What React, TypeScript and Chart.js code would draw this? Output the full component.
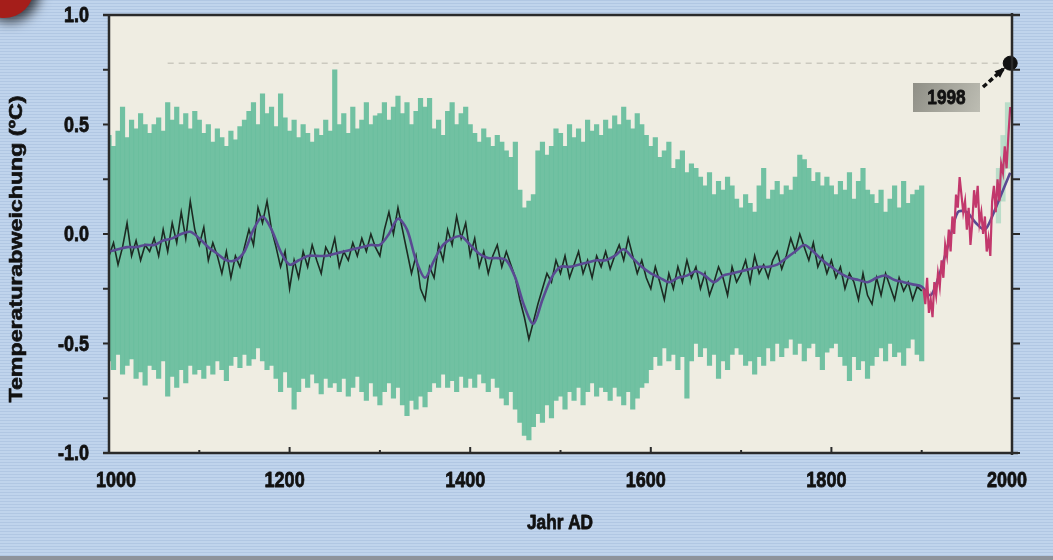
import React, { useEffect, useRef } from 'react';
import { Chart, registerables } from 'chart.js';

Chart.register(...registerables);

// ---------- data ----------
const X_TICKS = [1000, 1200, 1400, 1600, 1800, 2000];
const Y_TICKS = [-1.0, -0.5, 0.0, 0.5, 1.0];
const Y_TITLE = 'Temperaturabweichung (ºC)';
const X_TITLE = 'Jahr AD';
const RECORD_YEAR = 1998;
const RECORD_VALUE = 0.78;
const RECORD_LABEL = '1998';
const REF_LINE_YEARS = [1065, 1990];

// uncertainty band, 5-year steps from 1000 to 1900
const BAND_START = 1000;
const BAND_STEP = 5;
const BAND_HI = [
  0.45, 0.40, 0.47, 0.58, 0.44, 0.52, 0.48, 0.55, 0.50, 0.46,
  0.50, 0.53, 0.47, 0.60, 0.52, 0.58, 0.50, 0.55, 0.48, 0.56,
  0.52, 0.46, 0.50, 0.42, 0.48, 0.44, 0.40, 0.47, 0.43, 0.49,
  0.52, 0.56, 0.60, 0.50, 0.64, 0.55, 0.58, 0.49, 0.64, 0.53,
  0.47, 0.52, 0.44, 0.50, 0.46, 0.42, 0.48, 0.45, 0.52, 0.47,
  0.75, 0.50, 0.55, 0.46, 0.58, 0.48, 0.52, 0.60, 0.50, 0.54,
  0.55, 0.60, 0.52, 0.58, 0.63, 0.55, 0.60, 0.50, 0.56, 0.62,
  0.58, 0.62, 0.48, 0.52, 0.45, 0.56, 0.60, 0.50, 0.55, 0.58,
  0.50, 0.46, 0.42, 0.48, 0.44, 0.40, 0.45, 0.42, 0.38, 0.35,
  0.42, 0.20, 0.12, 0.15, 0.18, 0.38, 0.42, 0.36, 0.40, 0.48,
  0.46, 0.40, 0.50, 0.44, 0.48, 0.42, 0.52, 0.47, 0.50, 0.45,
  0.52, 0.48, 0.54, 0.50, 0.58, 0.52, 0.48, 0.55, 0.50, 0.45,
  0.40, 0.44, 0.35, 0.38, 0.42, 0.30, 0.34, 0.38, 0.28, 0.32,
  0.30, 0.26, 0.22, 0.28, 0.18, 0.24, 0.20, 0.26, 0.22, 0.16,
  0.12, 0.18, 0.14, 0.10, 0.22, 0.30, 0.16, 0.20, 0.24, 0.18,
  0.22, 0.20, 0.26, 0.36, 0.34, 0.30, 0.24, 0.28, 0.22, 0.26,
  0.22, 0.18, 0.24, 0.20, 0.28, 0.16, 0.24, 0.30, 0.20, 0.18,
  0.14, 0.20, 0.10, 0.16, 0.22, 0.12, 0.24, 0.14, 0.18, 0.20,
  0.22,
];
const BAND_LO = [
  -0.58, -0.62, -0.55, -0.64, -0.60, -0.57, -0.66, -0.63, -0.69, -0.60,
  -0.62, -0.66, -0.58, -0.74, -0.65, -0.70, -0.62, -0.68, -0.60, -0.64,
  -0.62, -0.66, -0.60, -0.64, -0.58, -0.62, -0.67, -0.60, -0.56, -0.61,
  -0.55, -0.60, -0.57, -0.52, -0.58, -0.62, -0.60, -0.66, -0.72, -0.63,
  -0.70, -0.80, -0.72, -0.66, -0.70, -0.64, -0.68, -0.73, -0.66, -0.70,
  -0.68, -0.72, -0.66, -0.74, -0.70, -0.65, -0.72, -0.76, -0.68, -0.74,
  -0.78, -0.72, -0.68, -0.75, -0.70, -0.78, -0.83, -0.76, -0.80, -0.74,
  -0.79, -0.72, -0.68, -0.70, -0.64, -0.70, -0.67, -0.72, -0.65, -0.70,
  -0.66, -0.70, -0.64, -0.68, -0.72, -0.66, -0.70, -0.75, -0.78, -0.72,
  -0.80, -0.86, -0.92, -0.94, -0.88, -0.82, -0.86, -0.78, -0.84, -0.76,
  -0.74, -0.80, -0.72, -0.76, -0.70, -0.78, -0.72, -0.68, -0.74, -0.70,
  -0.72, -0.76, -0.70, -0.74, -0.78, -0.72, -0.80, -0.75, -0.70, -0.68,
  -0.62, -0.56, -0.60, -0.52, -0.58, -0.55, -0.62, -0.56, -0.75, -0.58,
  -0.50, -0.56, -0.52, -0.60, -0.55, -0.66, -0.58, -0.62, -0.55, -0.52,
  -0.55, -0.60, -0.58, -0.64, -0.56, -0.60, -0.52, -0.58, -0.50, -0.56,
  -0.52, -0.48, -0.55, -0.50, -0.58, -0.52, -0.50, -0.56, -0.62, -0.54,
  -0.52, -0.50, -0.56, -0.60, -0.67, -0.56, -0.62, -0.58, -0.66, -0.60,
  -0.56, -0.52, -0.58, -0.50, -0.56, -0.54, -0.60, -0.52, -0.48, -0.55,
  -0.58,
];
// reconstructed annual values (5-year samples, 1000..1900)
const ANNUAL = [
  -0.10, -0.04, -0.14, -0.06, 0.05, -0.10, -0.03, -0.12, -0.05, -0.08,
  -0.02, -0.10, 0.02, -0.08, 0.05, -0.04, 0.10, -0.02, 0.15, 0.02,
  -0.05, 0.03, -0.12, -0.04, -0.10, -0.18, -0.08, -0.20, -0.10, -0.15,
  -0.06, 0.02, -0.05, 0.12, 0.05, 0.15, 0.02, -0.06, -0.15, -0.08,
  -0.25, -0.12, -0.20, -0.08, -0.15, -0.05, -0.12, -0.18, -0.06, -0.10,
  -0.02, -0.15, -0.08, -0.12, -0.04, -0.10, -0.02, -0.08, 0.00, -0.06,
  -0.10, 0.02, 0.10, 0.00, 0.12, 0.02, -0.08, -0.18, -0.10, -0.25,
  -0.30, -0.15, -0.20, -0.05, -0.12, 0.02, -0.05, 0.08, -0.02, 0.05,
  -0.10, -0.02, -0.15, -0.08, -0.18, -0.10, -0.05, -0.15, -0.08, -0.14,
  -0.20, -0.30, -0.38, -0.48, -0.40, -0.32, -0.25, -0.18, -0.22, -0.12,
  -0.18, -0.10, -0.20, -0.14, -0.08, -0.18, -0.12, -0.20, -0.10, -0.15,
  -0.08, -0.16, -0.10, -0.05, -0.12, -0.02, -0.10, -0.18, -0.12, -0.20,
  -0.25, -0.15, -0.22, -0.30, -0.18, -0.25, -0.15, -0.22, -0.12, -0.20,
  -0.15, -0.25, -0.18, -0.28, -0.22, -0.15, -0.20, -0.28, -0.15, -0.22,
  -0.18, -0.12, -0.22, -0.10, -0.18, -0.14, -0.20, -0.12, -0.08, -0.16,
  -0.10, -0.02, -0.08, 0.00, -0.06, -0.12, -0.04, -0.15, -0.10, -0.18,
  -0.12, -0.20, -0.15, -0.25, -0.18, -0.22, -0.30, -0.18, -0.28, -0.32,
  -0.20, -0.28, -0.18, -0.24, -0.30, -0.20, -0.26, -0.22, -0.30, -0.24,
  -0.26,
];
// smoothed curve (decadal)
const SMOOTH_YEARS = [
  1000, 1010, 1020, 1030, 1040, 1050, 1060, 1070, 1080, 1090,
  1100, 1110, 1120, 1130, 1140, 1150, 1160, 1170, 1180, 1190,
  1200, 1210, 1220, 1230, 1240, 1250, 1260, 1270, 1280, 1290,
  1300, 1310, 1320, 1330, 1340, 1350, 1360, 1370, 1380, 1390,
  1400, 1410, 1420, 1430, 1440, 1450, 1460, 1470, 1480, 1490,
  1500, 1510, 1520, 1530, 1540, 1550, 1560, 1570, 1580, 1590,
  1600, 1610, 1620, 1630, 1640, 1650, 1660, 1670, 1680, 1690,
  1700, 1710, 1720, 1730, 1740, 1750, 1760, 1770, 1780, 1790,
  1800, 1810, 1820, 1830, 1840, 1850, 1860, 1870, 1880, 1890,
  1900, 1910, 1920, 1930, 1940, 1950, 1960, 1970, 1980, 1990, 1998,
];
const SMOOTH_VALUES = [
  -0.08, -0.07, -0.06, -0.06, -0.05, -0.05, -0.03, -0.02, 0.00, 0.01,
  -0.02, -0.06, -0.09, -0.12, -0.12, -0.08, 0.02, 0.08, 0.02, -0.08,
  -0.14, -0.12, -0.10, -0.10, -0.10, -0.09, -0.08, -0.07, -0.06, -0.05,
  -0.05, 0.00, 0.07, 0.02, -0.12, -0.20, -0.12, -0.05, -0.02, -0.01,
  -0.05, -0.09, -0.11, -0.11, -0.12, -0.20, -0.33, -0.41, -0.30, -0.20,
  -0.15, -0.15, -0.14, -0.13, -0.12, -0.12, -0.10, -0.07, -0.11, -0.15,
  -0.18, -0.20, -0.22, -0.20, -0.19, -0.17, -0.19, -0.22, -0.19, -0.18,
  -0.17, -0.16, -0.15, -0.15, -0.14, -0.11, -0.08, -0.05, -0.08, -0.12,
  -0.15, -0.18, -0.20, -0.21, -0.22, -0.20, -0.19, -0.21, -0.22, -0.23,
  -0.24, -0.28, -0.18, -0.04, 0.10, 0.10, 0.05, 0.02, 0.10, 0.20, 0.28,
];
// instrumental record
const INSTR_YEARS = [
  1902, 1904, 1906, 1908, 1910, 1912, 1914, 1916, 1918, 1920,
  1922, 1924, 1926, 1928, 1930, 1932, 1934, 1936, 1938, 1940,
  1942, 1944, 1946, 1948, 1950, 1952, 1954, 1956, 1958, 1960,
  1962, 1964, 1966, 1968, 1970, 1972, 1974, 1976, 1978, 1980,
  1982, 1984, 1986, 1988, 1990, 1992, 1994, 1996, 1998,
];
const INSTR_VALUES = [
  -0.25, -0.32, -0.20, -0.36, -0.30, -0.38, -0.22, -0.28, -0.18, -0.24,
  -0.12, -0.20, -0.05, -0.10, 0.02, -0.08, 0.08, 0.00, 0.18, 0.12,
  0.26, 0.18, 0.10, 0.15, 0.02, 0.12, -0.05, 0.05, 0.20, 0.12,
  0.22, 0.05, 0.10, 0.00, 0.08, -0.08, -0.02, -0.10, 0.15, 0.22,
  0.10, 0.25, 0.15, 0.32, 0.28, 0.40, 0.30, 0.45, 0.58,
];
const INSTR_BAND_YEARS = [1985, 1990, 1995];
const INSTR_BAND_HI = [0.30, 0.45, 0.60];
const INSTR_BAND_LO = [0.05, 0.15, 0.30];

// ---------- chart ----------
const W = 1053;
const H = 560;
const FONT = "'Liberation Sans', Arial, sans-serif";
const SQUEEZE = 0.82;

function squeezedText(ctx: any, text: string, x: number, y: number, align: 'left' | 'center' | 'right', size: number) {
  ctx.save();
  ctx.font = `bold ${size}px ${FONT}`;
  ctx.textBaseline = 'middle';
  ctx.textAlign = align;
  ctx.translate(x, y);
  ctx.scale(SQUEEZE, 1);
  ctx.lineWidth = 0.8;
  ctx.strokeStyle = ctx.fillStyle;
  ctx.lineJoin = 'round';
  ctx.strokeText(text, 0, 0);
  ctx.fillText(text, 0, 0);
  ctx.restore();
}

const decor = {
  id: 'decor',
  beforeDraw(chart: any) {
    const { ctx, chartArea: a } = chart;
    ctx.save();
    ctx.fillStyle = '#c0d4ec';
    ctx.fillRect(0, 0, W, H);
    for (let y = 0; y < H; y += 3) {
      ctx.fillStyle = 'rgba(140,166,204,0.28)';
      ctx.fillRect(0, y, W, 1);
    }
    ctx.fillStyle = '#8e939b';
    ctx.fillRect(0, 556, W, 4);
    ctx.shadowColor = 'rgba(0,0,0,0.7)';
    ctx.shadowBlur = 12;
    ctx.shadowOffsetX = 6;
    ctx.shadowOffsetY = 4;
    ctx.fillStyle = '#a51e1a';
    ctx.beginPath();
    ctx.arc(4, -12, 30, 0, Math.PI * 2);
    ctx.fill();
    ctx.shadowColor = 'transparent';
    ctx.fillStyle = '#efede2';
    ctx.fillRect(a.left, a.top, a.right - a.left, a.bottom - a.top);
    ctx.restore();
  },
  afterDatasetsDraw(chart: any) {
    const { ctx, chartArea: a, scales } = chart;
    const xs = scales.x;
    const ys = scales.y;
    ctx.save();
    ctx.strokeStyle = '#2a2a2a';
    ctx.lineWidth = 2.5;
    ctx.beginPath();
    ctx.moveTo(a.left - 6, a.top);
    ctx.lineTo(a.right + 8, a.top);
    ctx.moveTo(a.left, a.top);
    ctx.lineTo(a.left, a.bottom + 1);
    ctx.moveTo(a.left - 6, a.bottom);
    ctx.lineTo(a.right + 6, a.bottom);
    ctx.moveTo(a.right, a.top - 2);
    ctx.lineTo(a.right, a.bottom + 2);
    ctx.stroke();
    ctx.lineWidth = 2;
    ctx.beginPath();
    for (let v = -1; v <= 1.0001; v += 0.25) {
      const y = ys.getPixelForValue(v);
      ctx.moveTo(a.left - 6, y);
      ctx.lineTo(a.left, y);
      ctx.moveTo(a.right, y);
      ctx.lineTo(a.right + 8, y);
    }
    for (let yr = 1100; yr < 2000; yr += 100) {
      const x = xs.getPixelForValue(yr);
      ctx.moveTo(x, a.bottom);
      ctx.lineTo(x, a.bottom - (yr % 200 === 0 ? 6 : 3));
    }
    ctx.stroke();

    // record annotation: dashed arrow + label box
    const px = xs.getPixelForValue(RECORD_YEAR);
    const py = ys.getPixelForValue(RECORD_VALUE);
    const sx = 983, sy = 87;
    const ex = px - 7, ey = py + 6;
    ctx.strokeStyle = '#111';
    ctx.fillStyle = '#111';
    ctx.lineWidth = 3.5;
    ctx.setLineDash([5, 3]);
    ctx.beginPath();
    ctx.moveTo(sx, sy);
    ctx.lineTo(ex, ey);
    ctx.stroke();
    ctx.setLineDash([]);
    const ang = Math.atan2(ey - sy, ex - sx);
    ctx.beginPath();
    ctx.moveTo(ex + Math.cos(ang) * 3, ey + Math.sin(ang) * 3);
    ctx.lineTo(ex - Math.cos(ang - 0.5) * 9, ey - Math.sin(ang - 0.5) * 9);
    ctx.lineTo(ex - Math.cos(ang + 0.5) * 9, ey - Math.sin(ang + 0.5) * 9);
    ctx.closePath();
    ctx.fill();
    const bx = 913, by = 83, bw = 67, bh = 29;
    const g = ctx.createLinearGradient(bx, by, bx + bw, by + bh);
    g.addColorStop(0, '#8f8f86');
    g.addColorStop(1, '#bdbdb3');
    ctx.fillStyle = g;
    ctx.fillRect(bx, by, bw, bh);
    ctx.fillStyle = '#111';
    squeezedText(ctx, RECORD_LABEL, bx + bw / 2, by + bh / 2 + 1, 'center', 21);
    ctx.restore();
  },
  afterDraw(chart: any) {
    const { ctx, scales } = chart;
    ctx.save();
    ctx.fillStyle = '#111';
    X_TICKS.forEach((v, i) => {
      const dx = i === 0 ? 7 : -5;
      squeezedText(ctx, String(v), scales.x.getPixelForValue(v) + dx, 481, 'center', 22);
    });
    Y_TICKS.forEach((v) => {
      squeezedText(ctx, v.toFixed(1), 89, scales.y.getPixelForValue(v) + 1, 'right', 22);
    });
    squeezedText(ctx, X_TITLE, 560, 523, 'center', 21);
    ctx.translate(17, 249);
    ctx.rotate(-Math.PI / 2);
    ctx.font = `bold 19px ${FONT}`;
    ctx.textAlign = 'center';
    ctx.textBaseline = 'middle';
    const w = ctx.measureText(Y_TITLE).width;
    ctx.scale(307 / w, 1);
    ctx.lineWidth = 0.6;
    ctx.strokeStyle = '#111';
    ctx.strokeText(Y_TITLE, 0, 0);
    ctx.fillText(Y_TITLE, 0, 0);
    ctx.restore();
  },
};

export default function App() {
  const ref = useRef<HTMLCanvasElement | null>(null);
  useEffect(() => {
    if (!ref.current) return;
    const band = BAND_HI.map((hi, i) => ({ x: BAND_START + i * BAND_STEP, y: [BAND_LO[i], hi] }));
    const annual = ANNUAL.map((v, i) => ({ x: BAND_START + i * BAND_STEP, y: v }));
    const smooth = SMOOTH_YEARS.map((x, i) => ({ x, y: SMOOTH_VALUES[i] }));
    const instr = INSTR_YEARS.map((x, i) => ({ x, y: INSTR_VALUES[i] }));
    const instrBand = INSTR_BAND_YEARS.map((x, i) => ({ x, y: [INSTR_BAND_LO[i], INSTR_BAND_HI[i]] }));
    const chart = new Chart(ref.current, {
      type: 'bar',
      data: {
        datasets: [
          {
            type: 'bar',
            data: band as any,
            backgroundColor: 'rgba(102,189,156,0.92)',
            borderWidth: 0,
            barPercentage: 1,
            categoryPercentage: 1,
            grouped: false,
            order: 10,
          } as any,
          {
            type: 'bar',
            data: instrBand as any,
            backgroundColor: 'rgba(150,210,185,0.6)',
            borderWidth: 0,
            barPercentage: 1,
            categoryPercentage: 1,
            grouped: false,
            order: 9,
          } as any,
          {
            type: 'line',
            data: REF_LINE_YEARS.map((x) => ({ x, y: RECORD_VALUE })) as any,
            borderColor: 'rgba(120,120,110,0.3)',
            borderWidth: 1.5,
            borderDash: [6, 5],
            pointRadius: 0,
            order: 8,
          } as any,
          {
            type: 'line',
            data: annual as any,
            borderColor: '#1c2a22',
            borderWidth: 1.6,
            pointRadius: 0,
            tension: 0,
            order: 3,
          } as any,
          {
            type: 'line',
            data: smooth as any,
            borderColor: '#5a4a92',
            borderWidth: 2.6,
            pointRadius: 0,
            tension: 0.3,
            order: 2,
          } as any,
          {
            type: 'line',
            data: instr as any,
            borderColor: '#c2386c',
            borderWidth: 2.2,
            pointRadius: 0,
            tension: 0,
            order: 1,
          } as any,
          {
            type: 'scatter',
            data: [{ x: RECORD_YEAR, y: RECORD_VALUE }] as any,
            backgroundColor: '#111',
            borderColor: '#111',
            pointRadius: 7,
            clip: false,
            order: 0,
          } as any,
        ],
      },
      options: {
        responsive: false,
        animation: false,
        devicePixelRatio: 1,
        layout: { padding: { left: 0, right: 41, top: 15, bottom: 0 } },
        plugins: { legend: { display: false }, tooltip: { enabled: false } },
        scales: {
          x: {
            type: 'linear',
            min: 1000,
            max: 2000,
            offset: false,
            grid: { display: false },
            border: { display: false },
            afterBuildTicks: (s: any) => { s.ticks = X_TICKS.map((v) => ({ value: v })); },
            afterFit: (s: any) => {
              s.height = 107;
              s.paddingLeft = 0; s.paddingRight = 0; s.paddingTop = 0; s.paddingBottom = 0;
            },
            ticks: { display: false },
          },
          y: {
            type: 'linear',
            min: -1,
            max: 1,
            grid: { display: false },
            border: { display: false },
            afterBuildTicks: (s: any) => { s.ticks = Y_TICKS.map((v) => ({ value: v })); },
            afterFit: (s: any) => {
              s.width = 109;
              s.paddingLeft = 0; s.paddingRight = 0; s.paddingTop = 0; s.paddingBottom = 0;
            },
            ticks: { display: false },
          },
        },
      } as any,
      plugins: [decor],
    });
    return () => chart.destroy();
  }, []);
  return (
    <div style={{ position: 'fixed', left: 0, top: 0, width: W, height: H }}>
      <canvas ref={ref} width={W} height={H} style={{ display: 'block' }} />
    </div>
  );
}
